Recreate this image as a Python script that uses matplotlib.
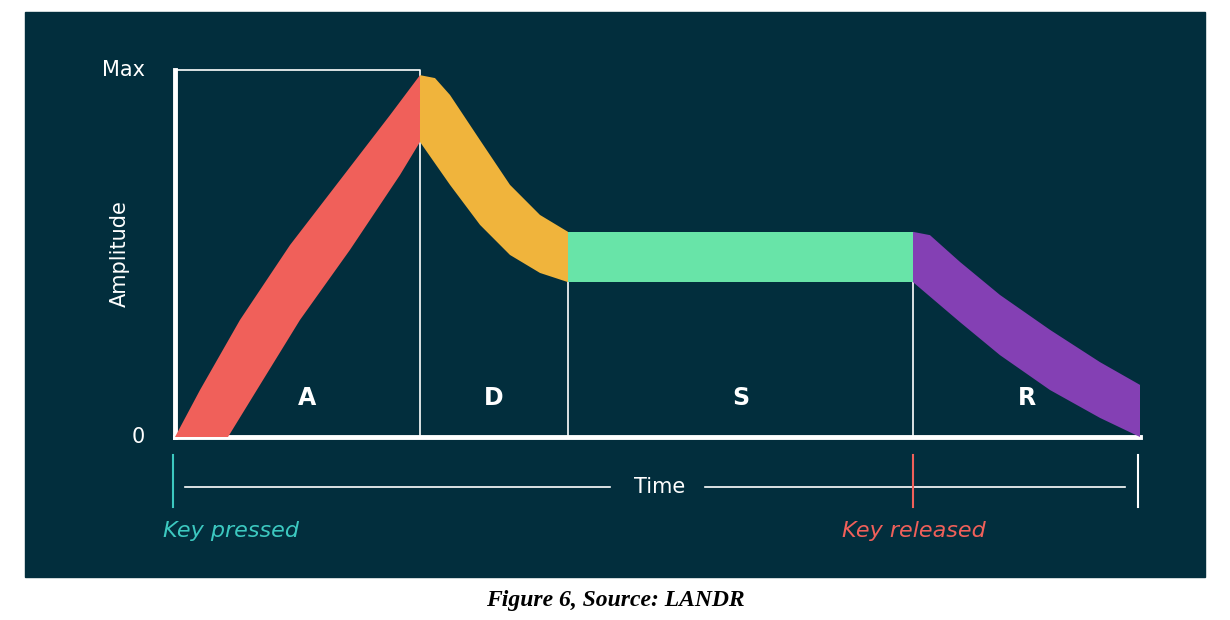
import matplotlib.pyplot as plt
from matplotlib.patches import Rectangle

# ADSR envelope, time in arbitrary units, amplitude 0..1
stage_labels = ["A", "D", "S", "R"]
stage_edges = [0, 2.45, 3.93, 7.38, 9.65]
sustain_band = [0.422, 0.559]

attack_up_t = [0, 0.25, 0.65, 1.15, 1.65, 2.15, 2.45]
attack_up_a = [0, 0.128, 0.319, 0.523, 0.700, 0.877, 0.986]
attack_lo_t = [0.53, 0.85, 1.25, 1.75, 2.25, 2.45]
attack_lo_a = [0, 0.142, 0.319, 0.510, 0.714, 0.804]

decay_up_t = [2.45, 2.60, 2.75, 3.05, 3.35, 3.65, 3.93]
decay_up_a = [0.986, 0.978, 0.932, 0.809, 0.687, 0.605, 0.559]
decay_lo_t = [2.45, 2.75, 3.05, 3.35, 3.65, 3.93]
decay_lo_a = [0.804, 0.687, 0.578, 0.496, 0.447, 0.422]

release_up_t = [7.38, 7.55, 7.85, 8.25, 8.75, 9.25, 9.65]
release_up_a = [0.559, 0.550, 0.477, 0.387, 0.292, 0.204, 0.142]
release_lo_t = [7.38, 7.85, 8.25, 8.75, 9.25, 9.65]
release_lo_a = [0.422, 0.313, 0.223, 0.128, 0.052, 0]

bg = "#022e3d"
cols = ["#f0605a", "#f0b43c", "#68e4a8", "#8440b4"]
teal = "#3cc8c0"

fig = plt.figure(figsize=(12.3, 6.2), dpi=100)
bgax = fig.add_axes([0, 0, 1, 1], zorder=0)
bgax.axis("off")
bgax.set_xlim(0, 1)
bgax.set_ylim(0, 1)
bgax.add_patch(Rectangle((25 / 1230, 43 / 620), 1180 / 1230, 565 / 620, color=bg))
bgax.text(0.5, 0.022, "Figure 6, Source: LANDR", ha="center", fontsize=17,
          family="Liberation Serif", weight="bold", style="italic")

ax = fig.add_axes([175 / 1230, 183 / 620, 965 / 1230, 367 / 620], zorder=1)
ax.set_facecolor("none")
ax.set_xlim(stage_edges[0], stage_edges[-1])
ax.set_ylim(0, 1)
for s in ["top", "right"]:
    ax.spines[s].set_visible(False)
for s in ["left", "bottom"]:
    ax.spines[s].set_color("white")
    ax.spines[s].set_linewidth(3.5)
ax.set_xticks([])
ax.set_yticks([])


def band(ut, ua, lt, la, c):
    ax.fill(ut + lt[::-1], ua + la[::-1], color=c, lw=0, zorder=3)


band(attack_up_t, attack_up_a, attack_lo_t, attack_lo_a, cols[0])
band(decay_up_t, decay_up_a, decay_lo_t, decay_lo_a, cols[1])
band([stage_edges[2], stage_edges[3]], [sustain_band[1]] * 2,
     [stage_edges[2], stage_edges[3]], [sustain_band[0]] * 2, cols[2])
band(release_up_t, release_up_a, release_lo_t, release_lo_a, cols[3])

# attack box and stage dividers
ax.plot([0, stage_edges[1], stage_edges[1]], [1, 1, 0], color="white", lw=1.2, zorder=2, clip_on=False)
ax.plot([stage_edges[2]] * 2, [0, sustain_band[0]], color="white", lw=1.2, zorder=2)
ax.plot([stage_edges[3]] * 2, [0, sustain_band[0]], color="white", lw=1.2, zorder=2)

for i, lab in enumerate(stage_labels):
    ax.text((stage_edges[i] + stage_edges[i + 1]) / 2 + (0.1 if i == 0 else 0), 0.106, lab,
            color="white", fontsize=17, weight="bold", ha="center", va="center", zorder=4)

ax.text(-0.3, 1.0, "Max", color="white", fontsize=15, ha="right", va="center")
ax.text(-0.3, 0.0, "0", color="white", fontsize=15, ha="right", va="center")
ax.text(-0.55, 0.5, "Amplitude", color="white", fontsize=15, rotation=90, ha="center", va="center")

# time row
ty = -0.136
ax.plot([0.1, 4.35], [ty, ty], color="white", lw=1.2, clip_on=False)
ax.plot([5.3, 9.5], [ty, ty], color="white", lw=1.2, clip_on=False)
ax.text(4.85, ty, "Time", color="white", fontsize=15, ha="center", va="center")
ax.plot([-0.02] * 2, [-0.05, -0.19], color=teal, lw=1.5, clip_on=False)
ax.plot([stage_edges[3]] * 2, [-0.05, -0.19], color=cols[0], lw=1.5, clip_on=False)
ax.plot([9.63] * 2, [-0.05, -0.19], color="white", lw=1.5, clip_on=False)
ax.text(-0.12, -0.255, "Key pressed", color=teal, fontsize=16, style="italic", va="center")
ax.text(6.67, -0.255, "Key released", color=cols[0], fontsize=16, style="italic", va="center")

fig.savefig("out.png", dpi=100)
